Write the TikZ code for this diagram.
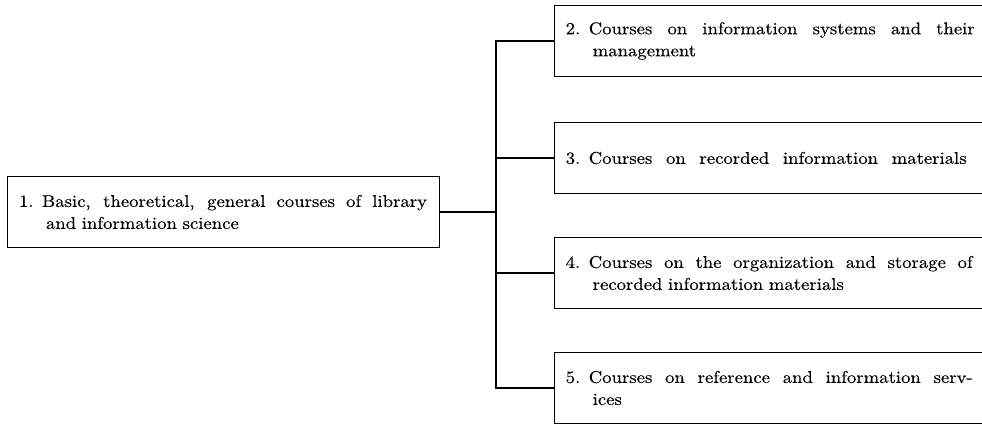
\documentclass[tikz,border=0pt]{standalone}
\usepackage{fontspec}
\setmainfont{lmroman10-regular.otf}[FakeStretch=1.1, FakeBold=0.4]
\usepackage{tikz}
\newcommand{\jline}[2]{\makebox[#1][s]{\spaceskip=0.3333em plus 20em\relax #2}}
\begin{document}
\begin{tikzpicture}[x=1pt,y=-1pt,
  txt/.style={font=\fontsize{17}{22}\selectfont, text width=409pt, align=left,
    inner xsep=11.5pt, inner ysep=0pt, minimum height=71pt, anchor=west},
  fullbox/.style={txt, draw, line width=1pt},
  openbox/.style={txt},
  boxline/.style={line width=1pt},
  conn/.style={line width=1.6pt}]
\useasboundingbox (0,0) rectangle (982,428);
\node[fullbox] (b1) at (7,212) {\jline{408pt}{1. Basic, theoretical, general courses of library}\\\hspace*{27pt}and information science};
\node[openbox] (b2) at (554,41) {\jline{409pt}{2. Courses on information systems and their}\\\hspace*{27pt}management};
\node[openbox] (b3) at (554,158) {\jline{401pt}{3. Courses on recorded information materials}};
\node[openbox] (b4) at (554,273) {\jline{407pt}{4. Courses on the organization and storage of}\\\hspace*{27pt}recorded information materials};
\node[openbox] (b5) at (554,388) {\jline{407pt}{5. Courses on reference and information serv-}\\\hspace*{27pt}ices};
\foreach \b in {b2,b3,b4,b5}
  \draw[boxline] (\b.north east) -- (\b.north west) -- (\b.south west) -- (\b.south east);
\coordinate (t) at (496,0);
\draw[conn] (b1.east) -- (b1.east -| t);
\draw[conn] (b2.west) -- (b2.west -| t) -- (b5.west -| t) -- (b5.west);
\draw[conn] (b3.west) -- (b3.west -| t);
\draw[conn] (b4.west) -- (b4.west -| t);
\end{tikzpicture}
\end{document}
